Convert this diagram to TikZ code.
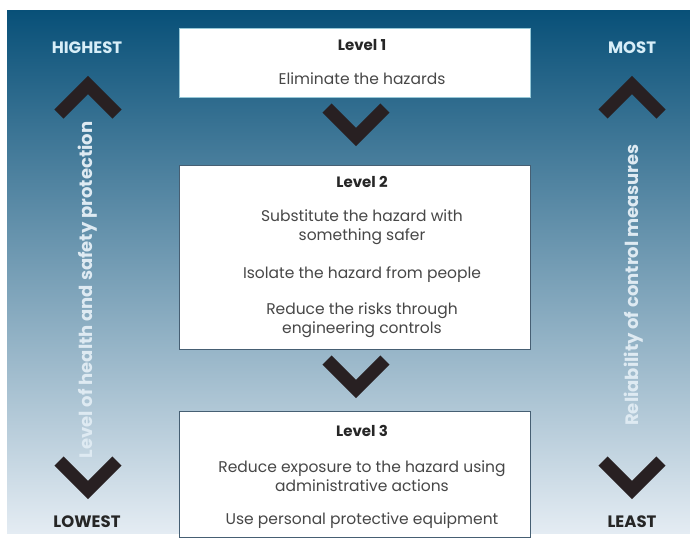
\documentclass[tikz,border=0pt]{standalone}
\usepackage{fontspec}
\setmainfont{Poppins}

\begin{document}
\begin{tikzpicture}[x=1pt, y=-1pt,
  box/.style={draw={rgb,255:red,70;green,95;blue,115}, fill=white, line width=0.8pt, minimum width=351, inner sep=0pt},
  head/.style={text=black!85, font=\fontsize{15}{18}\selectfont\bfseries},
  txt/.style={text=black!72, align=center, font=\fontsize{15.5}{19.5}\selectfont},
  side/.style={font=\fontsize{16.5}{18}\selectfont\bfseries},
  vtxt/.style={text={rgb,255:red,222;green,234;blue,242}, rotate=90, font=\fontsize{18}{20}\selectfont\bfseries},
  chev/.style={draw={rgb,255:red,40;green,32;blue,34}, line width=13pt, line join=miter},
  chevdn/.pic={\draw[chev] (-29,-29) -- (0,0) -- (29,-29);},
  chevup/.pic={\draw[chev] (-29,29) -- (0,0) -- (29,29);}]

\useasboundingbox (0,0) rectangle (690,542);

% background
\shade[top color={rgb,255:red,8;green,80;blue,120},
       middle color={rgb,255:red,70;green,135;blue,180},
       bottom color={rgb,255:red,228;green,236;blue,243}] (7,10) rectangle (690,533);

% boxes
\node[box, minimum height=69, draw={rgb,255:red,150;green,200;blue,215}] (lvl1) at (354.5,62.5) {};
\node[box, minimum height=184] (lvl2) at (354.5,257) {};
\node[box, minimum height=126] (lvl3) at (354.5,474) {};

% box texts
\node[head] (h1) at (362,45) {Level 1};
\node[txt] (t1) at (362,79) {Eliminate the hazards};

\node[head] (h2) at (362,182) {Level 2};
\node[txt] (t2a) at (362,227) {Substitute the hazard with\\something safer};
\node[txt] (t2b) at (362,275) {Isolate the hazard from people};
\node[txt] (t2c) at (362,320) {Reduce the risks through\\engineering controls};

\node[head] (h3) at (362,431) {Level 3};
\node[txt] (t3a) at (362,476) {Reduce exposure to the hazard using\\administrative actions};
\node[txt] (t3b) at (362,521) {Use personal protective equipment};

% chevrons between levels
\pic at (356,137) {chevdn};
\pic at (356,389) {chevdn};

% side labels
\node[side, text={rgb,255:red,215;green,238;blue,248}] (hi) at (87,48) {HIGHEST};
\node[side, text={rgb,255:red,215;green,238;blue,248}] (most) at (632,48) {MOST};
\node[side, text=black!85] (lo) at (87,522) {LOWEST};
\node[side, text=black!85] (least) at (632,522) {LEAST};

% side chevrons
\pic at (88,85) {chevup};
\pic at (632,85) {chevup};
\pic at (88,490) {chevdn};
\pic at (632,490) {chevdn};

% side axes
\node[vtxt] (lhs) at (88,290) {Level of health and safety protection};
\node[vtxt] (rel) at (634,285) {Reliability of control measures};

\end{tikzpicture}
\end{document}
